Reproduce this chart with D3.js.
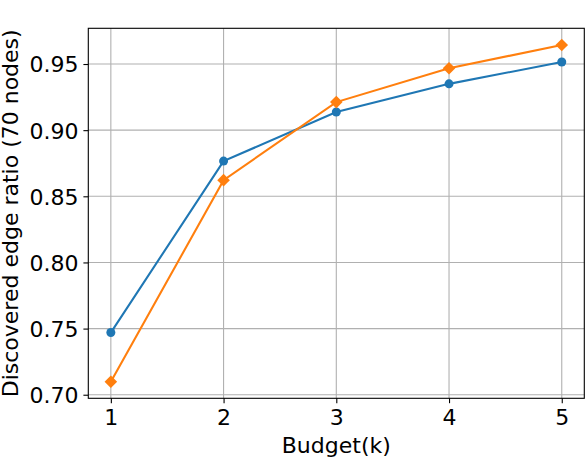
<!DOCTYPE html>
<html><head><meta charset="utf-8">
<script src="https://cdn.jsdelivr.net/npm/d3@7"></script>
<style>body{margin:0;background:#fff}svg{display:block}text{font-family:"DejaVu Sans",sans-serif;fill:#000}</style>
</head><body>
<svg id="c" width="587" height="459"></svg>
<script>
const budgets = [1, 2, 3, 4, 5];
const seriesA = [0.747, 0.8766, 0.9137, 0.9350, 0.9515];
const seriesB = [0.7098, 0.8622, 0.9212, 0.9468, 0.9644];
const xTicks = [1, 2, 3, 4, 5];
const yTicks = [0.70, 0.75, 0.80, 0.85, 0.90, 0.95];
const xLabel = "Budget(k)";
const yLabel = "Discovered edge ratio (70 nodes)";

const svg = d3.select("#c");
const L = 88.3, R = 584.3, T = 28.3, B = 398.3;
const x = d3.scaleLinear().domain([0.8, 5.2]).range([L, R]);
const y = d3.scaleLinear().domain([0.6973, 0.977]).range([B, T]);
const fs = 22;

// grid
const g = svg.append("g");
g.selectAll(".gx").data(xTicks).enter().append("line")
  .attr("x1", d => x(d)).attr("x2", d => x(d)).attr("y1", T).attr("y2", B)
  .attr("stroke", "#b0b0b0").attr("stroke-width", 1.1);
g.selectAll(".gy").data(yTicks).enter().append("line")
  .attr("y1", d => y(d)).attr("y2", d => y(d)).attr("x1", L).attr("x2", R)
  .attr("stroke", "#b0b0b0").attr("stroke-width", 1.1);

// axes
const xAxis = d3.axisBottom(x).tickValues(xTicks).tickFormat(d3.format("d")).tickSize(4.9).tickPadding(4.9);
const yAxis = d3.axisLeft(y).tickValues(yTicks).tickFormat(d3.format(".2f")).tickSize(4.9).tickPadding(4.9);
const ax = svg.append("g").attr("transform", `translate(0,${B})`).call(xAxis);
const ay = svg.append("g").attr("transform", `translate(${L},0)`).call(yAxis);
[ax, ay].forEach(a => {
  a.select(".domain").remove();
  a.selectAll(".tick line").attr("stroke", "#000").attr("stroke-width", 1.1);
  a.selectAll(".tick text").attr("font-size", fs).attr("font-family", "DejaVu Sans").attr("fill", "#000");
});
ay.selectAll(".tick text").attr("dy", "0.36em");
ax.selectAll(".tick text").attr("dy", "0.76em");

// series
const line = d3.line().x((d, i) => x(budgets[i])).y(d => y(d));
svg.append("path").datum(seriesA).attr("d", line).attr("fill", "none").attr("stroke", "#1f77b4").attr("stroke-width", 2.08);
svg.selectAll(".pa").data(seriesA).enter().append("circle")
  .attr("cx", (d, i) => x(budgets[i])).attr("cy", d => y(d)).attr("r", 4.5).attr("fill", "#1f77b4");
svg.append("path").datum(seriesB).attr("d", line).attr("fill", "none").attr("stroke", "#ff7f0e").attr("stroke-width", 2.08);
const dsym = d3.symbol().type(d3.symbolSquare).size(8.9 * 8.9);
svg.selectAll(".pb").data(seriesB).enter().append("path")
  .attr("d", dsym)
  .attr("transform", (d, i) => `translate(${x(budgets[i])},${y(d)}) rotate(45)`)
  .attr("fill", "#ff7f0e");

// frame
svg.append("rect").attr("x", L).attr("y", T).attr("width", R - L).attr("height", B - T)
  .attr("fill", "none").attr("stroke", "#000").attr("stroke-width", 1.1);

// labels
svg.append("text").attr("x", (L + R) / 2).attr("y", 453).attr("text-anchor", "middle")
  .attr("font-size", fs).text(xLabel);
svg.append("text").attr("transform", `translate(18,${(T + B) / 2}) rotate(-90)`).attr("text-anchor", "middle")
  .attr("font-size", fs).text(yLabel);
</script>
</body></html>
